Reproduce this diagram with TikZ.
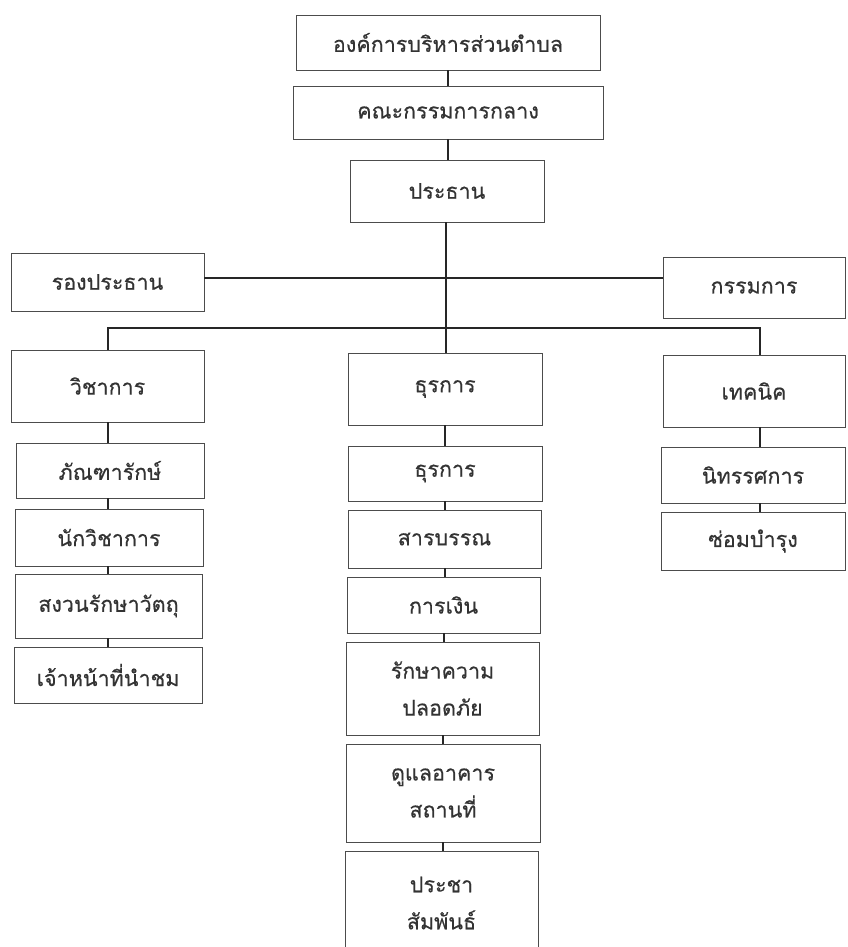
\documentclass[tikz,border=0pt]{standalone}
\usepackage{fontspec}
\newfontfamily\thai[Script=Thai,FakeBold=0.4]{Loma}
\begin{document}
\begin{tikzpicture}[x=1pt,y=-1pt,
  box/.style={draw=black!70, line width=0.9pt, inner sep=0pt, font=\thai\fontsize{21.5}{37}\selectfont, text=black!80, align=center, fill=white},
  conn/.style={draw=black!85, line width=2pt}]
\useasboundingbox (0,0) rectangle (848,947);
\clip (0,0) rectangle (848,947);
% nodes
\node[box, minimum width=304pt, minimum height=55pt] (org) at (448,42.5) {องค์การบริหารส่วนตำบล};
\node[box, minimum width=310pt, minimum height=53pt] (comm) at (448,112.5) {คณะกรรมการกลาง};
\node[box, minimum width=194pt, minimum height=62pt] (pres) at (447,191) {ประธาน};
\node[box, minimum width=193pt, minimum height=58pt] (vice) at (107.5,282) {รองประธาน};
\node[box, minimum width=182pt, minimum height=61pt] (member) at (754,287.5) {กรรมการ};
\node[box, minimum width=193pt, minimum height=72pt] (acad) at (107.5,386) {วิชาการ};
\node[box, minimum width=194pt, minimum height=72pt] (admin) at (445,389) {ธุรการ};
\node[box, minimum width=182pt, minimum height=72pt] (tech) at (754,391) {เทคนิค};
% left column
\node[box, minimum width=188pt, minimum height=55pt] (a1) at (110,470.5) {ภัณฑารักษ์};
\node[box, minimum width=188pt, minimum height=57pt] (a2) at (109,537.5) {นักวิชาการ};
\node[box, minimum width=187pt, minimum height=64pt] (a3) at (108.5,606) {สงวนรักษาวัตถุ};
\node[box, minimum width=188pt, minimum height=56pt] (a4) at (108,675) {เจ้าหน้าที่นำชม};
% middle column
\node[box, minimum width=194pt, minimum height=55pt] (b1) at (445,473.5) {ธุรการ};
\node[box, minimum width=193pt, minimum height=58pt] (b2) at (444.5,539) {สารบรรณ};
\node[box, minimum width=193pt, minimum height=56pt] (b3) at (443.5,605) {การเงิน};
\node[box, minimum width=193pt, minimum height=93pt] (b4) at (442.5,688.5) {รักษาความ\\ปลอดภัย};
\node[box, minimum width=194pt, minimum height=98pt] (b5) at (443,793) {ดูแลอาคาร\\สถานที่};
\node[box, minimum width=193pt, minimum height=104pt, text depth=0pt] (b6) at (441.5,903) {ประชา\\สัมพันธ์};
% right column
\node[box, minimum width=184pt, minimum height=56pt] (c1) at (753,475) {นิทรรศการ};
\node[box, minimum width=184pt, minimum height=58pt] (c2) at (753,541) {ซ่อมบำรุง};
% connectors
\coordinate (h1) at (446,278);
\coordinate (bus) at (446,327.5);
\coordinate (tdrop) at (760,355);
\draw[conn] (org.south) -- (comm.north);
\draw[conn] (comm.south) -- (comm.south |- pres.north);
\draw[conn] (pres.south -| h1) -- (h1 |- admin.north);
\draw[conn] (vice.east |- h1) -- (member.west |- h1);
\draw[conn] (acad.north) |- (bus) -| (tdrop);
\draw[conn] (acad.south) -- (acad.south |- a1.north);
\draw[conn] (a1.south -| acad.south) -- (acad.south |- a2.north);
\draw[conn] (a2.south -| acad.south) -- (acad.south |- a3.north);
\draw[conn] (a3.south -| acad.south) -- (acad.south |- a4.north);
\draw[conn] (admin.south) -- (admin.south |- b1.north);
\draw[conn] (b1.south) -- (b1.south |- b2.north);
\draw[conn] (b2.south) -- (b2.south |- b3.north);
\draw[conn] (b3.south) -- (b3.south |- b4.north);
\draw[conn] (b4.south) -- (b4.south |- b5.north);
\draw[conn] (b5.south) -- (b5.south |- b6.north);
\draw[conn] (tech.south -| tdrop) -- (tdrop |- c1.north);
\draw[conn] (c1.south -| tdrop) -- (tdrop |- c2.north);
\end{tikzpicture}
\end{document}
